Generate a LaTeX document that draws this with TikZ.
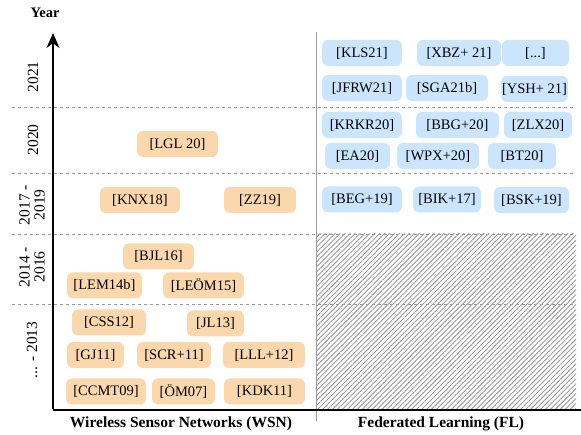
\documentclass[tikz,border=0pt]{standalone}
\usepackage{fontspec}
\setmainfont{Liberation Serif}
\usetikzlibrary{arrows.meta,patterns.meta}
\definecolor{wsnfill}{HTML}{FAD7AC}
\definecolor{flfill}{HTML}{CCE5FF}
\definecolor{sepgray}{HTML}{9A9A9A}
\tikzset{
  ref/.style={rounded corners=6pt, inner sep=0pt, minimum height=26pt, font=\fontsize{14.5}{16}\selectfont},
  wsn/.style={ref, fill=wsnfill},
  fl/.style={ref, fill=flfill},
  yearlbl/.style={rotate=90, align=center, font=\fontsize{15.5}{15}\selectfont},
  boldlbl/.style={font=\bfseries\fontsize{15.5}{17}\selectfont},
  rowsep/.style={draw=sepgray, line width=0.8pt, dash pattern=on 3pt off 3pt},
  axis/.style={line width=1.8pt, black}
}
\begin{document}
\begin{tikzpicture}[x=1pt,y=-1pt]
\useasboundingbox (0,0) rectangle (581,435);
% hatched area
\fill[pattern={Lines[angle=45,distance=3.5pt,line width=0.9pt]}, pattern color=sepgray] (317,234) rectangle (576,410);
% row separators
\draw[rowsep] (12,107) -- (574,107);
\draw[rowsep] (12,173) -- (574,173);
\draw[rowsep] (12,234) -- (574,234);
\draw[rowsep] (12,304) -- (574,304);
% column separator
\coordinate (septop) at (316,32);
\coordinate (sepbot) at (316,421);
\draw[sepgray, line width=1pt] (septop) -- (sepbot);
% axes
\coordinate (origin) at (53,410);
\coordinate (ytop) at (53,33);
\coordinate (xend) at (581,410);
\draw[axis] (origin) -- (xend);
\draw[axis, -{Stealth[length=15pt,width=13pt]}] ([yshift=0.9pt]origin) -- (ytop);
% labels
\node[font=\bfseries\fontsize{14.5}{16}\selectfont] (year) at (45,13) {Year};
\node[boldlbl] (wsnlbl) at (181,424) {Wireless Sensor Networks (WSN)};
\node[boldlbl] (fllbl) at (441,424) {Federated Learning (FL)};
\node[yearlbl] (y21) at (33,77) {2021};
\node[yearlbl] (y20) at (33,140) {2020};
\node[yearlbl] (y17) at (32,205) {2017 -\\2019};
\node[yearlbl] (y14) at (32,267) {2014 -\\2016};
\node[yearlbl] (y13) at (32,350) {... - 2013};
% WSN
\node[wsn, minimum width=81pt] (lgl) at (177.5,144) {[LGL 20]};
\node[wsn, minimum width=80pt] (knx) at (140,200) {[KNX18]};
\node[wsn, minimum width=72pt] (zz) at (260,200) {[ZZ19]};
\node[wsn, minimum width=71pt] (bjl) at (158.5,256.5) {[BJL16]};
\node[wsn, minimum width=75pt] (lem) at (104.5,285.5) {[LEM14b]};
\node[wsn, minimum width=81pt] (leom) at (203.5,285.5) {[LEÖM15]};
\node[wsn, minimum width=74pt] (css) at (109,322.5) {[CSS12]};
\node[wsn, minimum width=57pt] (jl) at (215.5,323.5) {[JL13]};
\node[wsn, minimum width=57pt] (gj) at (95.5,355) {[GJ11]};
\node[wsn, minimum width=74pt] (scr) at (174,355) {[SCR+11]};
\node[wsn, minimum width=82pt] (lll) at (264,355) {[LLL+12]};
\node[wsn, minimum width=80pt] (ccmt) at (106,391.5) {[CCMT09]};
\node[wsn, minimum width=63pt] (om) at (183.5,391.5) {[ÖM07]};
\node[wsn, minimum width=81pt] (kdk) at (264.5,391.5) {[KDK11]};
% FL
\node[fl, minimum width=80pt] (kls) at (362,53) {[KLS21]};
\node[fl, minimum width=84pt] (xbz) at (459,53) {[XBZ+ 21]};
\node[fl, minimum width=67pt] (dots) at (535.5,53) {[...]};
\node[fl, minimum width=80pt] (jfrw) at (362,88) {[JFRW21]};
\node[fl, minimum width=82pt] (sga) at (447,88) {[SGA21b]};
\node[fl, minimum width=67pt] (ysh) at (534.5,89) {[YSH+ 21]};
\node[fl, minimum width=80pt] (krkr) at (362,125) {[KRKR20]};
\node[fl, minimum width=83pt] (bbg) at (457.5,125) {[BBG+20]};
\node[fl, minimum width=68pt] (zlx) at (538,125) {[ZLX20]};
\node[fl, minimum width=65pt] (ea) at (357.5,156) {[EA20]};
\node[fl, minimum width=82pt] (wpx) at (438,156) {[WPX+20]};
\node[fl, minimum width=68pt] (bt) at (522,156) {[BT20]};
\node[fl, minimum width=80pt] (beg) at (362,199.5) {[BEG+19]};
\node[fl, minimum width=68pt] (bik) at (447,199.5) {[BIK+17]};
\node[fl, minimum width=75pt] (bsk) at (531.5,200) {[BSK+19]};
\end{tikzpicture}
\end{document}
